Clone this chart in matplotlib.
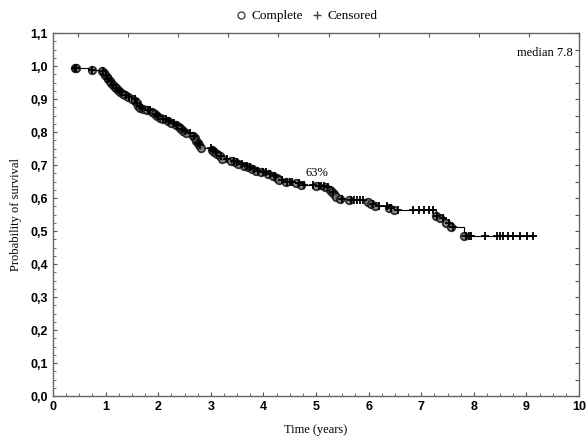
import numpy as np
import matplotlib
matplotlib.use('Agg')
import matplotlib.pyplot as plt
from matplotlib.lines import Line2D
from matplotlib.ticker import MultipleLocator, FuncFormatter

# Kaplan-Meier steps: event time, survival after the event
event_times = [0.42, 0.44, 0.74, 0.94, 0.96, 0.99, 1.02, 1.05, 1.08, 1.11, 1.14, 1.17,
               1.20, 1.24, 1.28, 1.33, 1.37, 1.43, 1.50, 1.56, 1.59, 1.62, 1.66, 1.72,
               1.78, 1.88, 1.93, 1.98, 2.04, 2.10, 2.18, 2.24, 2.34, 2.39, 2.44, 2.48,
               2.53, 2.66, 2.69, 2.72, 2.75, 2.78, 2.82, 3.02, 3.06, 3.12, 3.17, 3.22,
               3.38, 3.46, 3.52, 3.64, 3.70, 3.78, 3.85, 3.95, 4.08, 4.18, 4.25, 4.30,
               4.42, 4.62, 4.72, 5.00, 5.18, 5.26, 5.30, 5.34, 5.38, 5.46, 5.62, 5.98,
               6.05, 6.12, 6.38, 6.48, 7.28, 7.36, 7.48, 7.56, 7.82]
event_surv = [0.995, 0.993, 0.989, 0.984, 0.979, 0.974, 0.966, 0.961, 0.955, 0.949, 0.944, 0.938,
              0.933, 0.928, 0.922, 0.916, 0.911, 0.906, 0.900, 0.895, 0.888, 0.880, 0.873, 0.869,
              0.866, 0.861, 0.855, 0.849, 0.844, 0.839, 0.834, 0.828, 0.822, 0.816, 0.810, 0.803,
              0.796, 0.788, 0.781, 0.774, 0.767, 0.760, 0.752, 0.745, 0.739, 0.732, 0.726, 0.719,
              0.713, 0.708, 0.703, 0.698, 0.693, 0.688, 0.683, 0.678, 0.673, 0.668, 0.661, 0.655,
              0.650, 0.645, 0.641, 0.636, 0.632, 0.625, 0.618, 0.611, 0.604, 0.597, 0.594, 0.589,
              0.582, 0.576, 0.571, 0.565, 0.547, 0.540, 0.525, 0.513, 0.486]

# censored observation times
censored_times = [0.42, 0.44, 0.74, 0.95, 1.00, 1.05, 1.10, 1.15, 1.20, 1.25, 1.30, 1.38,
                  1.45, 1.55, 1.60, 1.65, 1.70, 1.80, 1.85, 1.95, 2.00, 2.10, 2.15, 2.20,
                  2.30, 2.36, 2.45, 2.50, 2.60, 2.68, 2.75, 2.80, 3.00, 3.05, 3.10, 3.20,
                  3.30, 3.45, 3.50, 3.60, 3.68, 3.75, 3.82, 3.90, 4.00, 4.05, 4.12, 4.22,
                  4.35, 4.45, 4.50, 4.55, 4.68, 4.78, 4.95, 5.05, 5.10, 5.15, 5.22, 5.32,
                  5.50, 5.66, 5.72, 5.78, 5.84, 5.90, 6.08, 6.20, 6.35, 6.42, 6.55, 6.85,
                  6.95, 7.05, 7.15, 7.22, 7.30, 7.42, 7.52, 7.60, 7.85, 7.90, 7.95, 8.21,
                  8.44, 8.50, 8.56, 8.65, 8.75, 8.88, 9.01, 9.13]

median_text = 'median 7.8'
pct_text = '63%'

event_times = np.array(event_times)
event_surv = np.array(event_surv)
censored_times = np.array(censored_times)

# survival at each censored time from the step curve
idx = np.searchsorted(event_times, censored_times, side='right') - 1
censored_surv = event_surv[np.clip(idx, 0, None)]

line_x = np.append(event_times, censored_times.max())
line_y = np.append(event_surv, event_surv[-1])

serif = 'Liberation Serif'
sans = 'Liberation Sans'

fig = plt.figure(figsize=(5.87, 4.41), dpi=100)
ax = fig.add_axes([0.0903, 0.102, 0.8961, 0.823])

ax.step(line_x, line_y, where='post', color='black', lw=0.8)
ax.plot(event_times, event_surv, 'o', ms=5.5, mfc='#777777', mec='#111111', mew=1.2, alpha=0.85)
ax.plot(censored_times, censored_surv, '+', ms=6, color='black', mew=1.3)

ax.set_xlim(0, 10)
ax.set_ylim(0, 1.1)
ax.xaxis.set_major_locator(MultipleLocator(1))
ax.xaxis.set_minor_locator(MultipleLocator(0.25))
ax.yaxis.set_major_locator(MultipleLocator(0.1))
ax.yaxis.set_minor_locator(MultipleLocator(0.025))
ax.yaxis.set_major_formatter(FuncFormatter(lambda v, p: '{:.1f}'.format(v).replace('.', ',')))
ax.tick_params(which='both', direction='in', colors='#555555', labelcolor='black',
               top=False, right=False)
ax.tick_params(which='major', length=3, width=0.8)
ax.tick_params(which='minor', length=2, width=0.6)
for lab in ax.get_xticklabels() + ax.get_yticklabels():
    lab.set_fontfamily(sans)
    lab.set_fontsize(9)
    lab.set_fontweight('bold')
for s in ax.spines.values():
    s.set_color('#666666')
    s.set_linewidth(1.0)

# top and right frame ticks on their own scales
top = ax.twiny()
top.set_xlim(-0.5, 10)
top.xaxis.set_major_locator(MultipleLocator(1))
top.tick_params(axis='x', direction='in', length=3, colors='#555555', labeltop=False)
right = ax.twinx()
right.set_ylim(0, 1.1)
right.yaxis.set_major_locator(MultipleLocator(0.05))
right.tick_params(axis='y', direction='in', length=3, colors='#555555', labelright=False)
for a in (top, right):
    for s in a.spines.values():
        s.set_visible(False)

ax.set_xlabel('Time (years)', fontfamily=serif, fontsize=9, labelpad=8)
ax.set_ylabel('Probability of survival', fontfamily=serif, fontsize=9, labelpad=6)

ax.text(5.02, 0.657, pct_text, fontfamily=serif, fontsize=9, ha='center', va='bottom')
ax.text(9.35, 1.04, median_text, fontfamily=serif, fontsize=9, ha='center', va='center')

handles = [Line2D([], [], ls='none', marker='o', ms=5, mfc='none', mec='#444444'),
           Line2D([], [], ls='none', marker='+', ms=6, color='#444444')]
fig.legend(handles, ['Complete', 'Censored'], loc='center', bbox_to_anchor=(0.518, 0.963),
           ncol=2, frameon=False, handletextpad=0.05, columnspacing=0.3, handlelength=1.5,
           prop={'family': serif, 'size': 9.5})

fig.savefig('out.png', dpi=100)
